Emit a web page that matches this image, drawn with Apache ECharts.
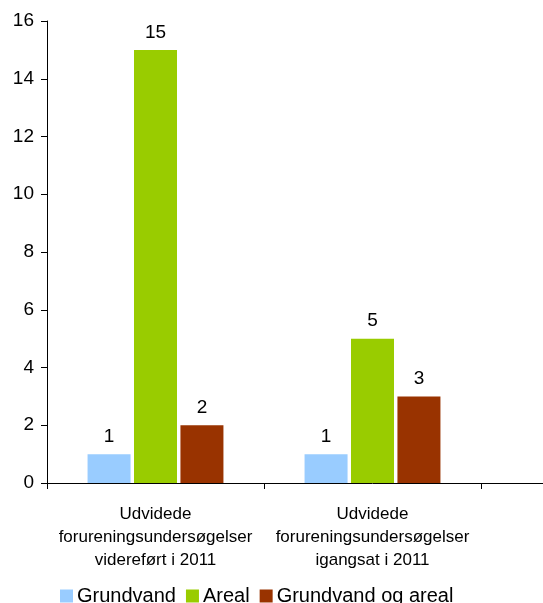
<!DOCTYPE html>
<html>
<head>
<meta charset="utf-8">
<script src="https://cdn.jsdelivr.net/npm/echarts@6/dist/echarts.min.js"></script>
<style>
html,body{margin:0;padding:0;background:#fff;overflow:hidden;width:543px;height:603px;}
#chart{width:700px;height:603px;}
</style>
</head>
<body>
<div id="chart"></div>
<script>
const categories = [
  'Udvidede\nforureningsundersøgelser\nvidereført i 2011',
  'Udvidede\nforureningsundersøgelser\nigangsat i 2011',
  ''
];
const seriesNames = ['Grundvand', 'Areal', 'Grundvand og areal'];
const grundvand = [1, 1, null];
const areal = [15, 5, null];
const grundvandOgAreal = [2, 3, null];
const yTicks = { min: 0, max: 16, interval: 2 };

const FONT = '"Liberation Sans", Arial, sans-serif';
const colors = ['#99CCFF', '#99CC00', '#993300'];
const seriesData = [grundvand, areal, grundvandOgAreal];

const chart = echarts.init(document.getElementById('chart'), null, { renderer: 'canvas' });
chart.setOption({
  animation: false,
  backgroundColor: '#ffffff',
  textStyle: { fontFamily: FONT, color: '#000' },
  grid: { left: 47, top: 21, width: 651, height: 462, containLabel: false },
  legend: {
    left: 55, top: 581,
    itemWidth: 13, itemHeight: 13, itemGap: 10,
    icon: 'rect',
    textStyle: { fontFamily: FONT, fontSize: 20, color: '#000', padding: [0, 0, 0, -1] },
    data: seriesNames
  },
  xAxis: {
    type: 'category',
    data: categories,
    axisLine: { lineStyle: { color: '#000', width: 1 } },
    axisTick: { show: true, length: 6, lineStyle: { color: '#000' } },
    axisLabel: {
      interval: 0, margin: 20,
      fontFamily: FONT, fontSize: 17, lineHeight: 23, color: '#000'
    },
    splitLine: { show: false }
  },
  yAxis: {
    type: 'value',
    min: yTicks.min, max: yTicks.max, interval: yTicks.interval,
    axisLine: { show: true, lineStyle: { color: '#000', width: 1 } },
    axisTick: { show: true, length: 6, lineStyle: { color: '#000' } },
    axisLabel: { margin: 13, fontFamily: FONT, fontSize: 19, color: '#000' },
    splitLine: { show: false }
  },
  series: seriesNames.map((name, i) => ({
    name: name,
    type: 'bar',
    data: seriesData[i],
    barWidth: 43,
    barGap: '8%',
    itemStyle: { color: colors[i] },
    label: {
      show: true, position: 'top', distance: 8,
      fontFamily: FONT, fontSize: 19, color: '#000'
    }
  }))
});
</script>
</body>
</html>
